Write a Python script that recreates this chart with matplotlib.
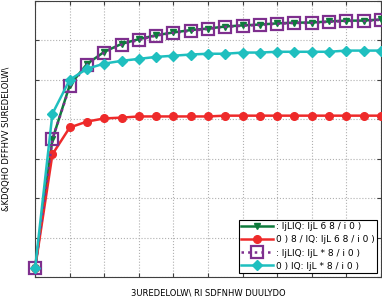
import numpy as np
import matplotlib
matplotlib.use("Agg")
import matplotlib.pyplot as plt

# ── Data ───────────────────────────────────────────────────────────────────────
arrival_prob = [0.0, 0.05, 0.1, 0.15, 0.2, 0.25, 0.3, 0.35, 0.4, 0.45, 0.5,
                0.55, 0.6, 0.65, 0.7, 0.75, 0.8, 0.85, 0.9, 0.95, 1.0]

green_su = [0.023, 0.349, 0.486, 0.540, 0.571, 0.591, 0.603, 0.613, 0.620,
            0.626, 0.630, 0.635, 0.638, 0.640, 0.643, 0.645, 0.645, 0.648,
            0.650, 0.650, 0.653]
red_su = [0.023, 0.311, 0.379, 0.394, 0.402, 0.404, 0.407, 0.407, 0.407,
          0.407, 0.407, 0.409, 0.409, 0.409, 0.409, 0.409, 0.409, 0.409,
          0.409, 0.409, 0.409]
purple_gu = [0.023, 0.349, 0.483, 0.538, 0.569, 0.589, 0.601, 0.612, 0.619,
             0.624, 0.629, 0.634, 0.637, 0.639, 0.642, 0.644, 0.644, 0.647,
             0.649, 0.649, 0.652]
cyan_gu = [0.023, 0.414, 0.500, 0.528, 0.541, 0.548, 0.553, 0.558, 0.561,
           0.564, 0.566, 0.566, 0.569, 0.569, 0.571, 0.571, 0.571, 0.571,
           0.574, 0.574, 0.574]

labels = [": ljLlQ: ljL 6 8 / i 0 )", "0 ) 8 / lQ: ljL 6 8 / i 0 )",
          ": ljLlQ: ljL * 8 / i 0 )", "0 ) lQ: ljL * 8 / i 0 )"]

x_ticks = np.arange(0, 1.01, 0.1)
y_ticks = np.arange(0, 0.71, 0.1)

# ── Plot ───────────────────────────────────────────────────────────────────────
fig = plt.figure(figsize=(3.82, 3.02), dpi=100)
ax = fig.add_axes([0.092, 0.083, 0.905, 0.914])

ax.plot(arrival_prob, green_su, "-v", color="#0e7a3c", lw=1.8, ms=5,
        mfc="#0e7a3c", label=labels[0], zorder=3, clip_on=False)
ax.plot(arrival_prob, red_su, "-o", color="#ee2a2a", lw=1.8, ms=5.5,
        mfc="#ee2a2a", label=labels[1], zorder=3, clip_on=False)
ax.plot(arrival_prob, purple_gu, ":s", color="#7e2f8e", lw=1.8, ms=8,
        mfc="none", mew=1.6, label=labels[2], zorder=4, clip_on=False)
ax.plot(arrival_prob, cyan_gu, "-D", color="#1fbfbf", lw=1.8, ms=5,
        mfc="#1fbfbf", label=labels[3], zorder=5, clip_on=False)

ax.set_xlim(0, 1.0)
ax.set_ylim(0, 0.7)
ax.set_xticks(x_ticks)
ax.set_yticks(y_ticks)
ax.set_xticklabels([])
ax.set_yticklabels([])
ax.tick_params(direction="in", length=3, top=True, right=True, color="#404040")
ax.grid(True, linestyle=":", color="#b0b0b0", linewidth=0.8)
for s in ax.spines.values():
    s.set_color("#404040")
    s.set_linewidth(0.8)

ax.set_xlabel("3UREDELOLW\\ RI SDFNHW DUULYDO", fontsize=6, labelpad=5)
ax.set_ylabel("&KDQQHO DFFHVV SUREDELOLW\\", fontsize=6, labelpad=14)

leg = ax.legend(loc="lower right", fontsize=6.5, fancybox=False,
                edgecolor="black", framealpha=1, borderpad=0.3,
                labelspacing=0.45, handlelength=3.5, handletextpad=0.3,
                borderaxespad=0.4)
leg.get_frame().set_linewidth(0.8)
leg.set_zorder(10)

plt.savefig("out.png", dpi=100)
plt.close()
